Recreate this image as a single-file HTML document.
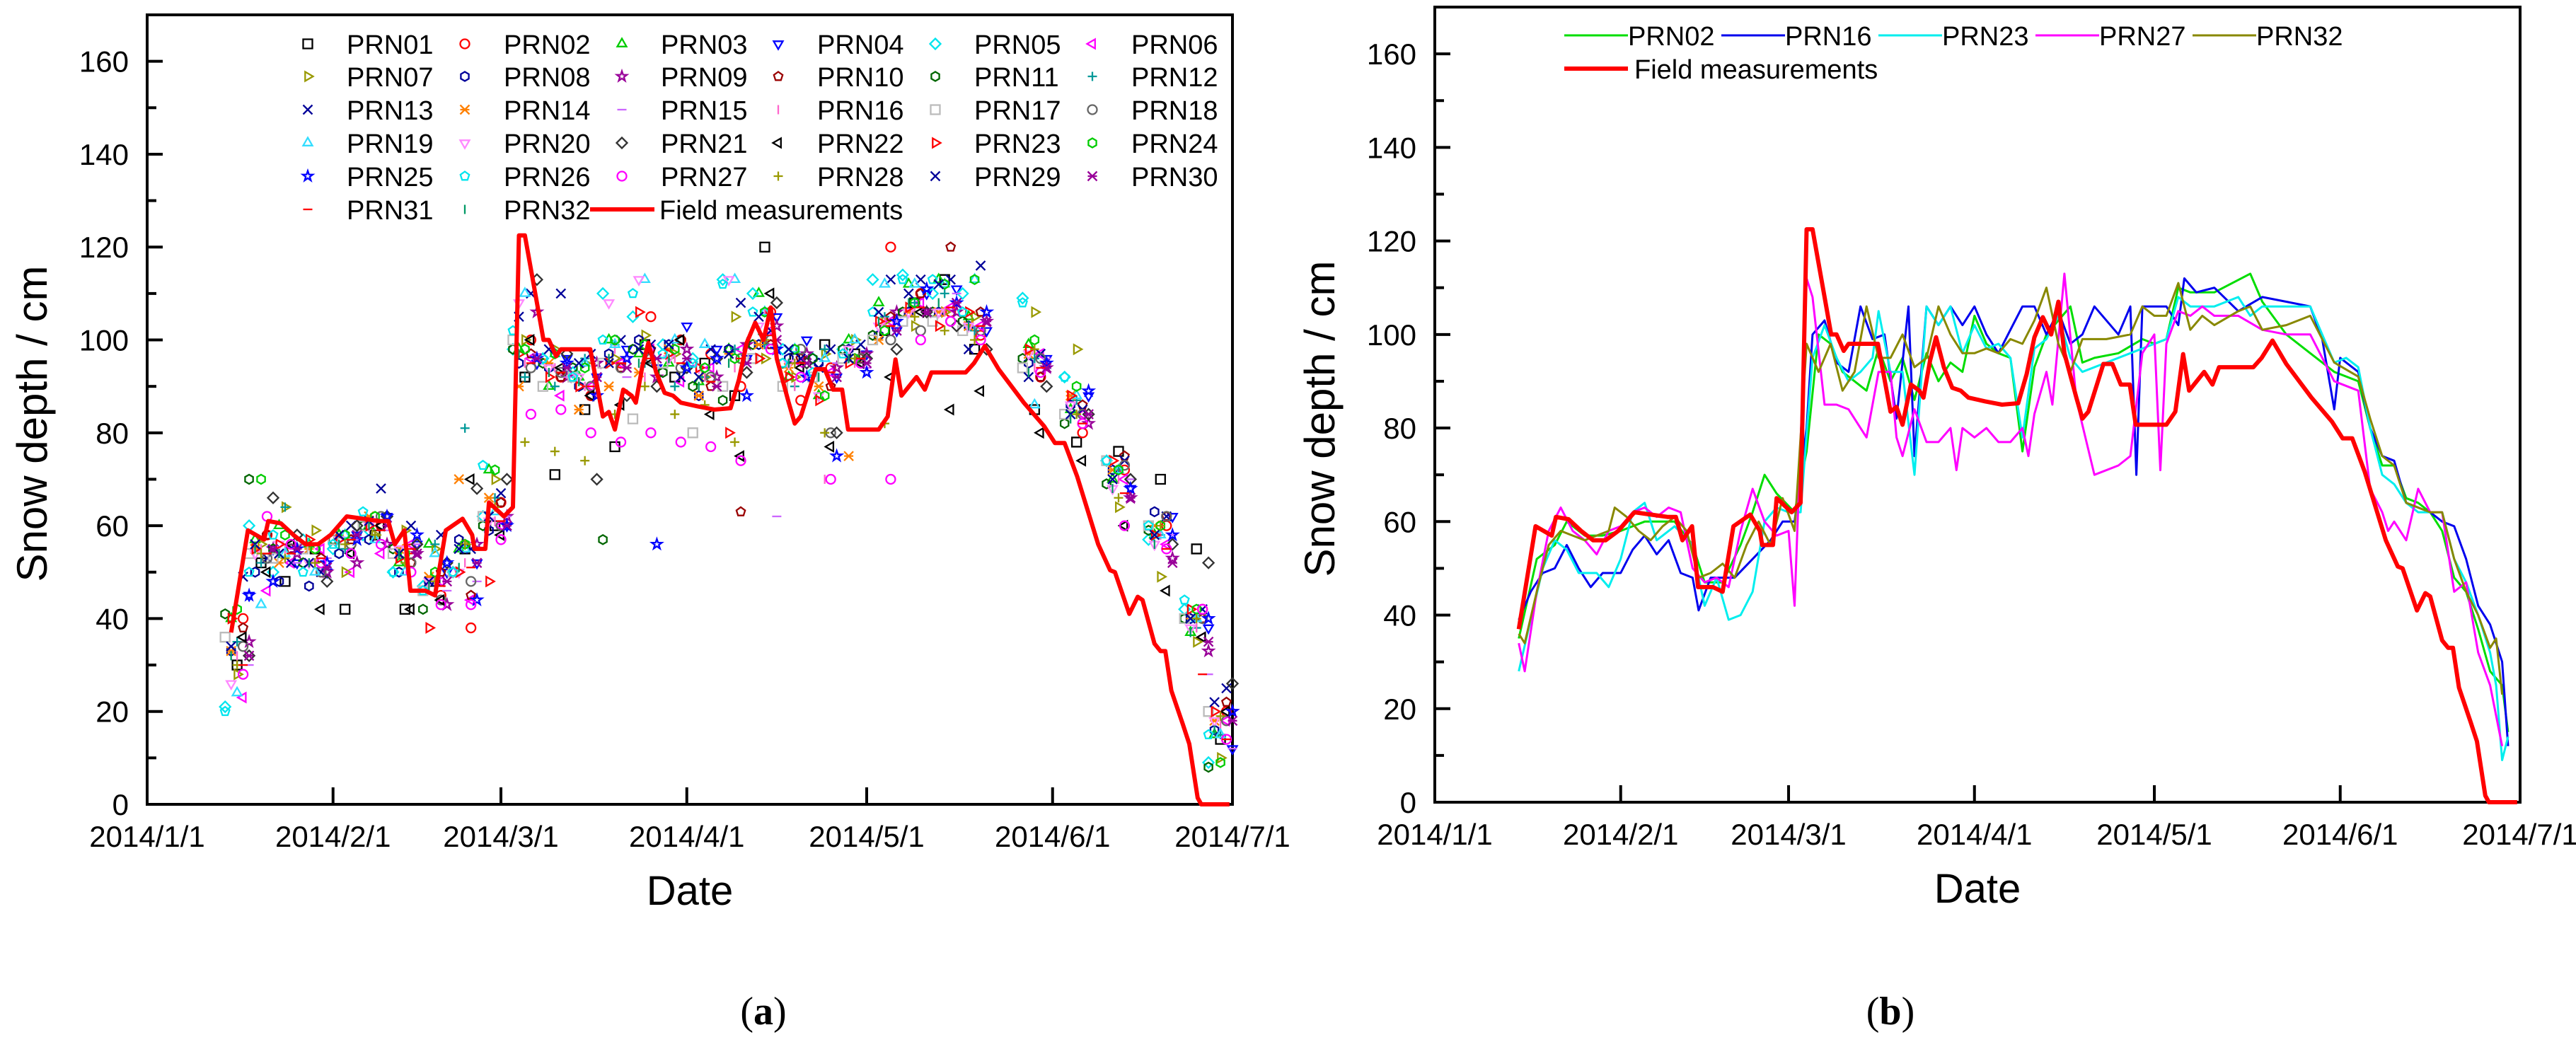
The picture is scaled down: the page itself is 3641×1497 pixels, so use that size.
<!DOCTYPE html>
<html><head><meta charset="utf-8">
<style>
html,body{margin:0;padding:0;background:#fff;}
svg{display:block;font-family:"Liberation Sans",Arial,sans-serif;}
</style></head>
<body>
<svg id="root" width="3641" height="1497" viewBox="0 0 3641 1497" xmlns="http://www.w3.org/2000/svg">
<rect x="0" y="0" width="3641" height="1497" fill="#fff"/>
<g id="pa"></g>
<g id="pb"></g>
<text x="1079" y="1448" font-family="Liberation Serif,serif" font-size="56" text-anchor="middle">(<tspan font-weight="bold">a</tspan>)</text>
<text x="2672" y="1448" font-family="Liberation Serif,serif" font-size="56" text-anchor="middle">(<tspan font-weight="bold">b</tspan>)</text>
</svg>
<script>
// ---------- data ----------
const monthTickDays = [0,31,59,90,120,151,181];
const monthTickLabels = ["2014/1/1","2014/2/1","2014/3/1","2014/4/1","2014/5/1","2014/6/1","2014/7/1"];
const yTickValues = [0,20,40,60,80,100,120,140,160];

const fieldDays = [14,16.8,19.5,20.2,22.3,24.4,26.4,28.5,30.6,33.3,36,38.8,40.2,41.3,42.9,43.9,46.4,48,49.8,52.6,54.2,54.6,56.4,57,59.5,61,62,63,65,66.1,67,68.2,69,71.9,73.9,76,77,78,79.4,80.8,81.5,82.6,83.6,84.9,86.3,87.7,89,91.8,94.6,97.3,98.7,100,101.4,102.8,104,105,107,108,109,111.5,113,114.4,115.9,116.9,122,123.5,124.8,125.8,128.3,129.7,130.8,136.5,137.9,139.7,142,146.2,149.6,151.4,153,155.1,158.6,160.6,161.4,163.8,165.2,166,168,169,169.8,170.8,172.7,173.8,175.2,175.8,180.5];
const fieldValues = [37,59,57,61,60.5,58,56,56,58,62,61.5,61,61,56,59,46,46,45,59,61.5,58,55,55,65,62,64,122.5,122.5,108,100,100,96.5,98,98,98,83.5,84.5,80.7,89.3,88,86.5,94.4,99.4,93,88.6,88,86.5,85.7,85,85.3,91.5,99.4,103.7,100,107,96,86.5,82,83.5,93.7,93.7,89.3,89.3,80.7,80.7,83.5,95.8,88,92,89.3,93,93,95,98.7,93.7,86.5,81.4,77.8,77.8,70.6,56,50.4,50,41,44.7,44,34.6,33,33,24.5,17.3,13,1.4,0,0];

const scatterDays = [15,19,23,28,33,38,43,48,53,58,63,68,73,78,83,88,93,98,103,108,113,118,123,128,133,138,148,155,162,169,175,179];
const prnDayShift = [0,1,-1,2,-2,1,0,-1,2,1,-2,0,1,-1,2,0,-2,1,0,-1,2,1,-1,0,2,-2,1,0,-1,2,1,-1];
const prnValues = [
[30,52,48,55,42,58,42,48,55,60,92,71,85,77,99,92,95,88,120,96,99,97,102,108,113,98,85,78,76,70,55,14],
[40,58,55,50,56,60,55,45,38,65,100,92,88,95,105,100,97,90,106,87,94,96,120,110,106,101,92,80,72,60,42,20],
[40,57,60,56,58,60,52,56,55,72,98,90,92,100,97,95,91,98,110,92,88,100,108,112,113,105,99,85,70,58,37,15],
[45,55,52,50,58,62,56,50,52,60,95,96,92,98,94,103,98,96,105,100,92,97,102,110,111,102,96,88,68,62,38,12],
[21,60,50,57,55,58,50,47,50,62,98,96,93,110,105,99,96,113,110,98,96,98,113,114,110,110,109,92,74,57,42,9],
[23,46,52,55,50,54,56,48,44,60,96,88,90,95,98,91,94,98,102,95,93,95,104,108,107,103,97,84,70,56,36,18],
[28,56,64,59,50,58,59,55,56,70,100,98,95,96,101,97,92,105,96,92,97,100,104,103,106,105,106,98,64,49,35,10],
[33,50,48,47,54,57,50,48,57,59,95,94,90,97,100,99,88,98,99,96,95,98,101,106,106,103,95,86,72,63,40,16],
[35,55,54,50,52,56,54,43,56,62,106,92,95,96,92,98,92,99,103,97,94,97,106,106,106,104,94,82,66,53,33,20],
[38,58,55,53,57,60,52,50,45,65,97,92,88,94,98,100,90,63,99,96,90,96,105,110,120,106,92,86,75,62,40,22],
[41,70,55,52,57,60,55,42,50,60,98,95,94,57,98,93,90,87,99,95,96,98,101,106,106,104,96,82,69,59,40,8],
[35,52,64,52,55,58,53,56,81,66,92,90,96,99,95,90,92,98,99,90,98,96,105,108,110,102,96,87,72,58,38,15],
[49,53,52,50,60,68,60,58,55,67,110,110,97,100,99,92,98,108,102,96,98,99,113,113,113,116,97,85,74,62,42,25],
[33,55,52,55,58,62,55,49,70,66,90,95,85,90,93,98,88,97,99,94,90,75,100,106,106,103,97,88,72,60,40,18],
[30,54,52,53,57,59,56,46,48,62,97,92,88,92,94,96,90,95,62,92,95,94,104,106,110,104,96,84,70,58,28,12],
[32,55,55,52,56,58,54,46,52,61,95,94,90,98,92,96,92,94,106,90,70,95,104,106,106,100,94,84,70,58,38,17],
[36,54,53,55,57,60,54,46,50,62,100,90,92,95,83,95,80,90,96,90,92,96,100,104,104,102,94,84,74,60,40,20],
[34,53,55,50,56,62,52,44,48,60,94,93,90,94,96,94,92,96,100,98,80,96,100,102,104,102,96,84,73,62,40,18],
[24,43,54,50,58,57,50,54,55,63,110,97,95,99,113,100,99,113,106,98,96,100,112,112,112,113,86,88,72,58,40,15],
[26,54,56,52,57,60,55,48,50,61,108,94,92,108,113,96,94,113,103,95,88,98,103,106,106,103,97,86,68,56,38,18],
[32,66,58,48,60,62,56,52,68,70,113,97,70,88,90,94,96,93,108,95,80,96,98,106,103,98,90,84,70,56,52,26],
[36,50,56,42,54,60,42,44,70,58,100,94,88,86,95,100,84,75,110,94,77,95,92,106,85,89,80,74,60,46,36,20],
[40,55,56,57,57,60,53,38,50,48,97,92,90,95,106,97,94,80,96,92,87,95,104,107,103,106,98,88,74,58,42,20],
[42,70,58,55,58,62,54,50,56,72,98,97,94,100,99,98,94,96,106,98,88,96,102,108,112,113,100,90,72,60,42,9],
[45,48,55,52,57,62,58,52,44,60,96,95,88,96,56,94,96,88,98,92,75,93,104,111,108,106,95,89,68,58,40,20],
[20,50,58,50,56,63,50,46,50,73,102,96,92,100,110,97,95,112,106,95,93,97,106,113,113,106,108,92,74,60,44,15],
[28,62,56,52,54,56,50,43,43,57,84,85,80,78,80,78,77,74,98,92,70,95,70,100,104,100,93,82,60,55,42,14],
[30,54,53,52,56,58,52,48,56,64,78,76,74,84,90,84,86,78,100,95,80,96,82,105,102,100,98,84,66,60,40,19],
[34,56,54,52,58,61,54,48,55,62,105,98,95,95,98,99,92,97,105,98,94,96,106,110,112,98,92,84,70,58,40,22],
[32,55,55,51,58,60,54,48,52,60,96,94,92,94,96,96,90,95,100,95,92,95,102,106,108,104,94,84,66,52,35,18],
[30,54,54,53,57,59,55,47,51,61,95,93,90,95,96,95,91,96,101,95,93,96,103,107,107,103,94,82,67,55,28,14],
[32,55,54,52,56,60,54,47,51,62,97,93,91,96,95,96,90,95,102,95,92,96,104,108,108,103,93,83,68,56,37,16]
];

const prn02Days=[14,17,20,22,25,28,31,35,40,43,45,48,51,53,55,57,60,62,64,66,68,70,72,74,76,78,80,82,84,86,88,90,92,94,96,98,100,102,104,106,108,110,114,118,120,122,124,126,130,136,138,142,146,150,154,156,158,160,162,164,166,168,170,172,174,176,178,179];
const prn02Vals=[35,52,55,60,57,57,58,60,60,55,47,47,55,62,70,66,62,75,100,98,92,90,88,97,90,95,86,96,90,94,92,104,98,96,95,75,93,100,103,106,94,95,96,99,98,99,110,109,109,113,107,100,96,92,90,80,72,72,65,64,62,58,48,45,37,28,25,15];
const prn16Days=[14,16,18,20,22,24,26,28,31,33,35,37,39,41,43,44,46,50,53,56,58,60,62,63,65,67,69,71,73,75,77,79,80,82,84,86,88,90,92,94,96,98,100,102,104,106,108,110,114,116,117,118,122,124,125,127,130,134,138,142,146,148,150,151,154,156,158,160,162,164,166,168,170,172,174,176,178,179];
const prn16Vals=[39,45,49,50,55,50,46,49,49,54,57,53,56,49,48,41,48,48,52,56,60,60,80,100,103,94,92,106,99,100,82,106,74,106,102,106,102,106,100,96,101,106,106,100,105,98,100,106,100,106,70,106,106,102,112,109,110,105,108,107,106,99,84,95,92,80,74,73,64,63,62,60,59,52,42,38,30,12];
const prn23Days=[14,16,18,20,22,24,27,29,31,33,35,37,40,43,44,45,47,49,51,53,55,57,59,61,63,65,67,69,71,73,74,76,78,80,82,84,86,88,90,92,94,96,98,100,102,104,106,108,112,116,120,122,124,126,130,134,136,138,142,146,148,150,152,154,156,158,160,162,164,166,168,170,172,174,176,177,178,179];
const prn23Vals=[28,39,50,56,54,49,49,46,52,62,64,56,59,55,48,42,48,39,40,45,60,63,62,62,95,102,95,90,92,95,105,92,92,70,106,102,106,96,102,97,98,95,78,97,99,104,95,92,94,96,98,99,108,106,106,108,104,106,106,106,100,94,95,93,80,70,68,64,62,62,62,52,47,40,32,25,9,14];
const prn27Days=[14,15,17,19,21,23,25,27,29,31,33,35,37,39,41,43,45,47,49,51,53,55,57,59,60,62,63,65,67,69,71,72,74,76,77,78,80,82,84,86,87,88,90,92,94,96,98,99,100,102,103,105,107,110,114,116,118,120,121,122,124,126,128,130,134,138,142,146,150,154,156,158,159,160,162,164,166,168,170,172,174,176,178];
const prn27Vals=[34,28,45,58,63,58,56,53,58,59,62,63,61,63,62,50,47,48,46,58,67,60,57,58,42,112,108,85,85,84,80,78,92,92,78,74,84,77,77,80,71,80,78,80,77,77,80,74,83,92,85,113,86,70,72,74,96,100,71,98,105,104,106,104,104,101,100,100,90,88,67,62,58,60,56,67,62,62,45,47,32,25,12];
const prn32Days=[14,15,17,19,21,23,25,27,29,30,32,34,36,38,40,42,44,46,48,50,52,54,56,58,60,62,64,66,68,70,72,74,76,78,80,82,84,86,88,90,92,94,96,98,100,102,104,106,108,112,116,118,120,122,124,126,128,130,134,136,138,142,146,150,154,156,158,160,162,164,166,168,170,172,174,176,177,178];
const prn32Vals=[36,34,45,55,58,57,56,57,58,63,61,58,56,59,61,58,48,49,51,48,55,60,55,65,58,98,92,98,88,92,106,95,95,100,93,95,106,100,96,96,97,96,99,98,103,110,98,92,99,99,100,106,104,104,111,101,104,102,105,106,101,102,104,94,91,82,74,72,64,63,62,62,52,45,40,33,35,23];

// ---------- helpers ----------
const NS="http://www.w3.org/2000/svg";
function mk(tag, parent, attrs){const e=document.createElementNS(NS,tag);for(const k in attrs)e.setAttribute(k,attrs[k]);parent.appendChild(e);return e;}

function makeAxes(g, L, R, T, B){
  const xs = d => L + d/181*(R-L);
  const ys = v => B - v/170*(B-T);
  const box = mk('rect', g, {x:L,y:T,width:R-L,height:B-T,fill:'none',stroke:'#000','stroke-width':4});
  
  
  monthTickDays.forEach((d,i)=>{
    if(i>0 && i<monthTickDays.length-1){
      const t=mk('line',g,{x1:xs(d),x2:xs(d),y1:B,y2:B-24,stroke:'#000','stroke-width':4});
      
      
    }
    const lb=mk('text',g,{x:xs(d),y:B+60,'font-size':42,'text-anchor':'middle',fill:'#000'});
    lb.textContent=monthTickLabels[i];
    
    
  });
  for(let v=10; v<170; v+=10){
    const major = v%20===0;
    const t=mk('line',g,{x1:L,x2:L+(major?22:13),y1:ys(v),y2:ys(v),stroke:'#000','stroke-width':4});
    
    
  }
  yTickValues.forEach(v=>{
    const lb=mk('text',g,{x:L-26,y:ys(v)+15,'font-size':42,'text-anchor':'end',fill:'#000'});
    lb.textContent=v;
    
    
  });
  const xt=mk('text',g,{x:(L+R)/2,y:B+142,'font-size':58,'text-anchor':'middle',fill:'#000'});
  xt.textContent='Date';
  
  
  const yc=(T+B)/2+20;
  const yt=mk('text',g,{x:0,y:0,'font-size':60,'text-anchor':'middle',fill:'#000',transform:`translate(${L-142},${yc}) rotate(-90)`});
  yt.textContent='Snow depth / cm';
  
  
  return {xs,ys};
}

function linePath(days, vals, xs, ys){
  return days.map((d,i)=>(i?'L':'M')+xs(d).toFixed(1)+' '+ys(vals[i]).toFixed(1)).join(' ');
}

const markerShapes=['square','circle','triUp','triDown','diamond','triLeft','triRight','hexagon','star','pentagon','hexagon','plus','cross','asterisk','dash','vbar','square','circle','triUp','triDown','diamond','triLeft','triRight','hexagon','star','pentagon','circle','plus','cross','asterisk','dash','vbar'];
const markerColors=['#000000','#ff0000','#00cc00','#0000ff','#00e5ee','#ff00ff','#999900','#000099','#990099','#990000','#006600','#009999','#000099','#ff8000','#cc66ff','#ff66cc','#bbbbbb','#666666','#33ddff','#ff88ff','#333333','#000000','#ff0000','#00cc00','#0000ff','#00e5ee','#ff00ff','#999900','#000099','#990099','#ff0000','#009966'];

function drawMarker(g, shape, color, x, y){
  const s=6.5;
  let d='';
  const poly=(n,r,rot)=>{let p='';for(let k=0;k<n;k++){const a=rot+k*2*Math.PI/n;p+=(k?'L':'M')+(x+r*Math.cos(a)).toFixed(1)+' '+(y+r*Math.sin(a)).toFixed(1);}return p+'Z';};
  switch(shape){
    case 'square': d=`M${x-s} ${y-s}h${2*s}v${2*s}h${-2*s}Z`; break;
    case 'circle': { const c=mk('circle',g,{cx:x,cy:y,r:s,fill:'none',stroke:color,'stroke-width':2.3});   return; }
    case 'triUp': d=poly(3,s+1,-Math.PI/2); break;
    case 'triDown': d=poly(3,s+1,Math.PI/2); break;
    case 'triLeft': d=poly(3,s+1,Math.PI); break;
    case 'triRight': d=poly(3,s+1,0); break;
    case 'diamond': d=poly(4,s+1,-Math.PI/2); break;
    case 'hexagon': d=poly(6,s,-Math.PI/2); break;
    case 'pentagon': d=poly(5,s,-Math.PI/2); break;
    case 'star': {let p='';for(let k=0;k<10;k++){const r=k%2?s*0.45:s+1;const a=-Math.PI/2+k*Math.PI/5;p+=(k?'L':'M')+(x+r*Math.cos(a)).toFixed(1)+' '+(y+r*Math.sin(a)).toFixed(1);}d=p+'Z';break;}
    case 'plus': d=`M${x-s} ${y}h${2*s}M${x} ${y-s}v${2*s}`; break;
    case 'cross': d=`M${x-s} ${y-s}L${x+s} ${y+s}M${x-s} ${y+s}L${x+s} ${y-s}`; break;
    case 'asterisk': d=`M${x-s} ${y-s}L${x+s} ${y+s}M${x-s} ${y+s}L${x+s} ${y-s}M${x-s} ${y}h${2*s}`; break;
    case 'dash': d=`M${x-s} ${y}h${2*s}`; break;
    case 'vbar': d=`M${x} ${y-s}v${2*s}`; break;
  }
  const p=mk('path',g,{d:d,fill:'none',stroke:color,'stroke-width':2.3});
  
  
}

// ---------- panel a ----------
(function(){
  const g=document.getElementById('pa');
  const L=208,R=1742,T=21,B=1137;
  const {xs,ys}=makeAxes(g,L,R,T,B);
  const sg=mk('g',g,{});
  
  
  prnValues.forEach((row,p)=>{
    row.forEach((v,j)=>{
      if(v==null) return;
      drawMarker(sg, markerShapes[p], markerColors[p], xs(scatterDays[j]+prnDayShift[p]), ys(v));
    });
  });
  const fl=mk('path',g,{d:linePath(fieldDays,fieldValues,xs,ys),fill:'none',stroke:'#ff0000','stroke-width':6,'stroke-linejoin':'round'});
  
  
  const lg=mk('g',g,{});
  
  
  const colX=[435,657,879,1100,1322,1544];
  const rowY=[62,108,155,202,249,296];
  for(let p=0;p<32;p++){
    const c=p%6, r=Math.floor(p/6);
    drawMarker(lg, markerShapes[p], markerColors[p], colX[c], rowY[r]);
    const t=mk('text',lg,{x:colX[c]+55,y:rowY[r]+14,'font-size':38,fill:'#000'});
    t.textContent='PRN'+String(p+1).padStart(2,'0');
    
    
  }
  const ll=mk('line',lg,{x1:834,x2:925,y1:296,y2:296,stroke:'#ff0000','stroke-width':6});
  
  
  const lt=mk('text',lg,{x:932,y:310,'font-size':38,fill:'#000'});
  lt.textContent='Field measurements';
  
  
})();

// ---------- panel b ----------
(function(){
  const g=document.getElementById('pb');
  const L=2028,R=3562,T=10,B=1134;
  const {xs,ys}=makeAxes(g,L,R,T,B);
  const series=[
    {n:'PRN02',d:prn02Days,v:prn02Vals,c:'#00dd00'},
    {n:'PRN16',d:prn16Days,v:prn16Vals,c:'#0000ee'},
    {n:'PRN23',d:prn23Days,v:prn23Vals,c:'#00eeee'},
    {n:'PRN27',d:prn27Days,v:prn27Vals,c:'#ff00ff'},
    {n:'PRN32',d:prn32Days,v:prn32Vals,c:'#888800'}
  ];
  series.forEach(s=>{
    const p=mk('path',g,{d:linePath(s.d,s.v,xs,ys),fill:'none',stroke:s.c,'stroke-width':3,'stroke-linejoin':'round'});
    
    
  });
  const fl=mk('path',g,{d:linePath(fieldDays,fieldValues,xs,ys),fill:'none',stroke:'#ff0000','stroke-width':6,'stroke-linejoin':'round'});
  
  
  const lg=mk('g',g,{});
  
  
  series.forEach((s,i)=>{
    const x0=2211+i*222;
    const sw=mk('line',lg,{x1:x0,x2:x0+90,y1:50,y2:50,stroke:s.c,'stroke-width':3});
    
    
    const t=mk('text',lg,{x:x0+90,y:64,'font-size':38,fill:'#000'});
    t.textContent=s.n;
    
    
  });
  const sw=mk('line',lg,{x1:2211,x2:2301,y1:97,y2:97,stroke:'#ff0000','stroke-width':6});
  
  
  const t=mk('text',lg,{x:2310,y:111,'font-size':38,fill:'#000'});
  t.textContent='Field measurements';
  
  
})();
</script>
</body></html>
